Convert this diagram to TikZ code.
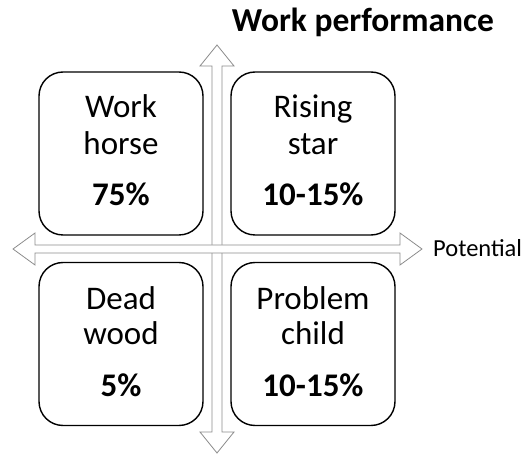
\documentclass[tikz,border=0pt]{standalone}
\usepackage{fontspec}
\setmainfont{Carlito}
\usetikzlibrary{calc}
\definecolor{arrgray}{RGB}{140,140,140}
\tikzset{
  quad/.style={draw=black, line width=1.4pt, rounded corners=24pt, fill=white, minimum width=164pt, minimum height=163pt, inner sep=0pt},
  lbl/.style={anchor=base, inner sep=0pt, font=\fontsize{33}{40}\selectfont},
  pct/.style={anchor=base, inner sep=0pt, font=\fontsize{33}{40}\selectfont\bfseries},
  blockarrow/.style={draw=arrgray, line width=0.8pt, fill=white, line join=miter}
}
\begin{document}
\begin{tikzpicture}[x=1pt,y=-1pt]
\useasboundingbox (0,0) rectangle (528,454);
% block arrows
\draw[blockarrow] (217,45) -- (234,66) -- (222,66) -- (222,432) -- (234,432) -- (217,453) -- (200,432) -- (212,432) -- (212,66) -- (200,66) -- cycle;
\draw[blockarrow] (13,249) -- (35,233) -- (35,245) -- (400,245) -- (400,233) -- (422,249) -- (400,265) -- (400,253) -- (35,253) -- (35,265) -- cycle;
\fill[white] (212.6,245.6) rectangle (221.4,252.4);
% boxes
\node[quad] (tl) at (121,153.5) {};
\node[quad] (tr) at (313,153.5) {};
\node[quad] (bl) at (121,344) {};
\node[quad] (br) at (313,344) {};
% texts
\node[lbl] (tl1) at ($(tl.north)+(0,46)$) {Work};
\node[lbl] (tl2) at ($(tl.north)+(0,83)$) {horse};
\node[pct] (tl3) at ($(tl.north)+(0,134)$) {75\%};
\node[lbl] (tr1) at ($(tr.north)+(0,46)$) {Rising};
\node[lbl] (tr2) at ($(tr.north)+(0,83)$) {star};
\node[pct] (tr3) at ($(tr.north)+(0,134)$) {10-15\%};
\node[lbl] (bl1) at ($(bl.north)+(0,48)$) {Dead};
\node[lbl] (bl2) at ($(bl.north)+(0,83)$) {wood};
\node[pct] (bl3) at ($(bl.north)+(0,135)$) {5\%};
\node[lbl] (br1) at ($(br.north)+(0,48)$) {Problem};
\node[lbl] (br2) at ($(br.north)+(0,83)$) {child};
\node[pct] (br3) at ($(br.north)+(0,135)$) {10-15\%};
% axis labels
\node[anchor=base, inner sep=0pt, font=\fontsize{33.5}{40}\selectfont\bfseries] (title) at (363,32) {Work performance};
\node[anchor=base west, inner sep=0pt, font=\fontsize{24.5}{30}\selectfont] (pot) at (433,257) {Potential};
\end{tikzpicture}
\end{document}
